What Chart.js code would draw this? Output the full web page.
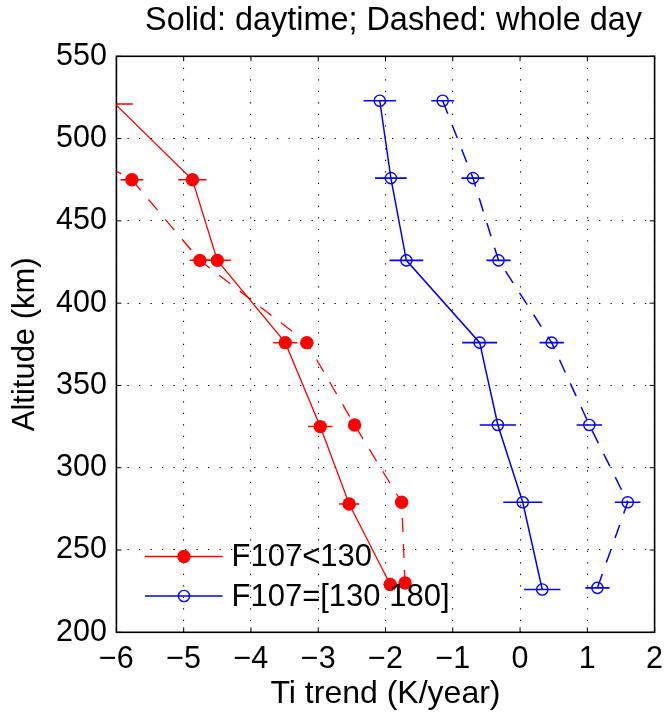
<!DOCTYPE html>
<html>
<head>
<meta charset="utf-8">
<script src="https://cdn.jsdelivr.net/npm/chart.js@4.4.0/dist/chart.umd.min.js"></script>
<style>
html,body{margin:0;padding:0;background:#fff;}
canvas{display:block;}
</style>
</head>
<body>
<canvas id="c" width="667" height="717"></canvas>
<script>
// ---- data ----
const titleText = 'Solid: daytime; Dashed: whole day';
const xTitle = 'Ti trend (K/year)';
const yTitle = 'Altitude (km)';
const xTicks = [-6, -5, -4, -3, -2, -1, 0, 1, 2];
const xTickLabels = ['\u22126', '\u22125', '\u22124', '\u22123', '\u22122', '\u22121', '0', '1', '2'];
const yTicks = [200, 250, 300, 350, 400, 450, 500, 550];
const yTickLabels = ['200', '250', '300', '350', '400', '450', '500', '550'];
const legendLabels = ['F107<130', 'F107=[130 180]'];

// F107<130, daytime (solid)
const lowDayAlt = [521, 475, 426, 376, 325, 278, 229];
const lowDayTrend = [-6.02, -4.87, -4.50, -3.49, -2.97, -2.54, -1.93];
const lowDayErr = [0.265, 0.21, 0.20, 0.18, 0.18, 0.15, 0.10];
// F107<130, whole day (dashed)
const lowAllAlt = [521, 475, 426, 376, 326, 279, 230];
const lowAllTrend = [-7.8, -5.77, -4.76, -3.17, -2.46, -1.76, -1.71];
const lowAllErr = [0.20, 0.17, 0.15, 0.10, 0.08, 0.05, 0.05];
// F107=[130 180], daytime (solid)
const highDayAlt = [523, 476, 426, 376, 326, 279, 226];
const highDayTrend = [-2.085, -1.92, -1.69, -0.60, -0.33, 0.04, 0.33];
const highDayErr = [0.24, 0.235, 0.25, 0.26, 0.27, 0.29, 0.27];
// F107=[130 180], whole day (dashed)
const highAllAlt = [523, 476, 426, 376, 326, 279, 227];
const highAllTrend = [-1.15, -0.70, -0.32, 0.47, 1.03, 1.60, 1.15];
const highAllErr = [0.17, 0.17, 0.18, 0.18, 0.19, 0.19, 0.18];

// ---- build ----
const FONT = "'Liberation Sans', Arial, Helvetica, sans-serif";
const RED = '#ff0000', BLUE = '#0000ff';
function pts(xs, ys) { return xs.map((x, i) => ({ x: x, y: ys[i] })); }
const X_MIN = xTicks[0], X_MAX = xTicks[xTicks.length - 1];
const Y_MIN = yTicks[0], Y_MAX = yTicks[yTicks.length - 1];
const hideOutside = (r) => (ctx) => (ctx.raw && (ctx.raw.x < X_MIN || ctx.raw.x > X_MAX)) ? 0 : r;

const datasets = [
  { label: legendLabels[0], data: pts(lowDayTrend, lowDayAlt), errX: lowDayErr,
    borderColor: RED, backgroundColor: RED, borderWidth: 1.3, pointRadius: hideOutside(6.7),
    pointBorderWidth: 0, pointBackgroundColor: RED, errWidth: 1.5 },
  { label: legendLabels[0] + ' (whole day)', data: pts(lowAllTrend, lowAllAlt), errX: lowAllErr,
    borderColor: RED, backgroundColor: RED, borderWidth: 1.3, borderDash: [14, 12], pointRadius: hideOutside(6.7),
    pointBorderWidth: 0, pointBackgroundColor: RED, errWidth: 1.5 },
  { label: legendLabels[1], data: pts(highDayTrend, highDayAlt), errX: highDayErr,
    borderColor: BLUE, backgroundColor: 'rgba(0,0,0,0)', borderWidth: 1.5, pointRadius: hideOutside(5.6),
    pointBorderWidth: 1.4, pointBorderColor: BLUE, pointBackgroundColor: 'rgba(0,0,0,0)', errWidth: 1.6 },
  { label: legendLabels[1] + ' (whole day)', data: pts(highAllTrend, highAllAlt), errX: highAllErr,
    borderColor: BLUE, backgroundColor: 'rgba(0,0,0,0)', borderWidth: 1.5, borderDash: [14, 12], pointRadius: hideOutside(5.6),
    pointBorderWidth: 1.4, pointBorderColor: BLUE, pointBackgroundColor: 'rgba(0,0,0,0)', errWidth: 1.6 }
];
datasets.forEach(d => { d.showLine = true; d.fill = false; d.tension = 0; d.clip = 0; d.pointHoverRadius = d.pointRadius; });

// box + inward ticks
const boxPlugin = {
  id: 'box',
  beforeDatasetsDraw(chart) {
    const { ctx, chartArea: a, scales: { x, y } } = chart;
    ctx.save();
    ctx.strokeStyle = '#000';
    ctx.lineWidth = 1;
    ctx.beginPath();
    xTicks.forEach(v => {
      const px = x.getPixelForValue(v);
      ctx.moveTo(px, a.bottom); ctx.lineTo(px, a.bottom - 5);
      ctx.moveTo(px, a.top); ctx.lineTo(px, a.top + 5);
    });
    yTicks.forEach(v => {
      const py = y.getPixelForValue(v);
      ctx.moveTo(a.left, py); ctx.lineTo(a.left + 5, py);
      ctx.moveTo(a.right, py); ctx.lineTo(a.right - 5, py);
    });
    ctx.stroke();
    ctx.lineWidth = 1.6;
    ctx.strokeRect(a.left, a.top, a.right - a.left, a.bottom - a.top);
    ctx.restore();
  }
};

// horizontal error bars
const errPlugin = {
  id: 'errbars',
  afterDatasetsDraw(chart) {
    const { ctx, chartArea: a, scales: { x, y } } = chart;
    ctx.save();
    ctx.beginPath();
    ctx.rect(a.left, a.top, a.right - a.left, a.bottom - a.top);
    ctx.clip();
    chart.data.datasets.forEach(ds => {
      if (!ds.errX) return;
      ctx.strokeStyle = ds.borderColor;
      ctx.lineWidth = ds.errWidth;
      ctx.setLineDash([]);
      ctx.beginPath();
      ds.data.forEach((p, i) => {
        const e = ds.errX[i];
        const py = y.getPixelForValue(p.y);
        ctx.moveTo(x.getPixelForValue(p.x - e), py);
        ctx.lineTo(x.getPixelForValue(p.x + e), py);
      });
      ctx.stroke();
    });
    ctx.restore();
  }
};

// title above the plot box and legend inside plot (lower left, no box)
const textPlugin = {
  id: 'texts',
  afterDraw(chart) {
    const { ctx, chartArea: a } = chart;
    ctx.save();
    ctx.fillStyle = '#000';
    ctx.font = '32.4px ' + FONT;
    ctx.textAlign = 'center';
    ctx.textBaseline = 'middle';
    ctx.fillText(titleText, (a.left + a.right) / 2 + 8, 21.5);

    const items = [
      { text: legendLabels[0], color: RED, filled: true, r: 6.7, lw: 1.3, y: 556.5 },
      { text: legendLabels[1], color: BLUE, filled: false, r: 5.6, lw: 1.5, y: 596 }
    ];
    items.forEach(it => {
      ctx.strokeStyle = it.color;
      ctx.lineWidth = it.lw;
      ctx.setLineDash([]);
      ctx.beginPath();
      ctx.moveTo(145, it.y); ctx.lineTo(222.5, it.y);
      ctx.stroke();
      ctx.beginPath();
      ctx.arc(184, it.y, it.r, 0, Math.PI * 2);
      if (it.filled) { ctx.fillStyle = it.color; ctx.fill(); }
      else { ctx.lineWidth = 1.4; ctx.stroke(); }
      ctx.fillStyle = '#000';
      ctx.font = '31px ' + FONT;
      ctx.textAlign = 'left';
      ctx.textBaseline = 'middle';
      ctx.fillText(it.text, 231.5, it.y + 1);
    });
    ctx.restore();
  }
};

new Chart(document.getElementById('c'), {
  type: 'scatter',
  data: { datasets: datasets },
  plugins: [boxPlugin, errPlugin, textPlugin],
  options: {
    responsive: false,
    animation: false,
    devicePixelRatio: 1,
    layout: { padding: { left: 0, right: 12.4, top: 56.3, bottom: 0 } },
    plugins: {
      legend: { display: false },
      tooltip: { enabled: false },
      title: { display: false }
    },
    scales: {
      x: {
        type: 'linear', min: X_MIN, max: X_MAX,
        afterBuildTicks: (s) => { s.ticks = xTicks.map(v => ({ value: v })); },
        afterFit: (s) => { s.height = 84.7; s.paddingLeft = 0; s.paddingRight = 0; },
        ticks: {
          color: '#000', padding: 9.4, maxRotation: 0, autoSkip: false,
          font: { family: FONT, size: 30.5 },
          callback: (v) => { const i = xTicks.indexOf(v); return i >= 0 ? xTickLabels[i] : ''; }
        },
        grid: { color: '#000', lineWidth: 1.1, drawTicks: false },
        border: { display: false, dash: [1.3, 10.2] },
        title: { display: true, text: xTitle, color: '#000',
          font: { family: FONT, size: 32 }, padding: { top: 0, bottom: 3.5 } }
      },
      y: {
        type: 'linear', min: Y_MIN, max: Y_MAX,
        afterBuildTicks: (s) => { s.ticks = yTicks.map(v => ({ value: v })); },
        afterFit: (s) => { s.width = 116.4; s.paddingTop = 0; s.paddingBottom = 0; },
        ticks: {
          color: '#000', padding: 9.4, autoSkip: false,
          font: { family: FONT, size: 30.5 },
          callback: (v) => { const i = yTicks.indexOf(v); return i >= 0 ? yTickLabels[i] : ''; }
        },
        grid: { color: '#000', lineWidth: 1.1, drawTicks: false },
        border: { display: false, dash: [1.3, 10.2] },
        title: { display: true, text: yTitle, color: '#000',
          font: { family: FONT, size: 31 }, padding: { top: 6.5, bottom: 0 } }
      }
    }
  }
});
</script>
</body>
</html>
